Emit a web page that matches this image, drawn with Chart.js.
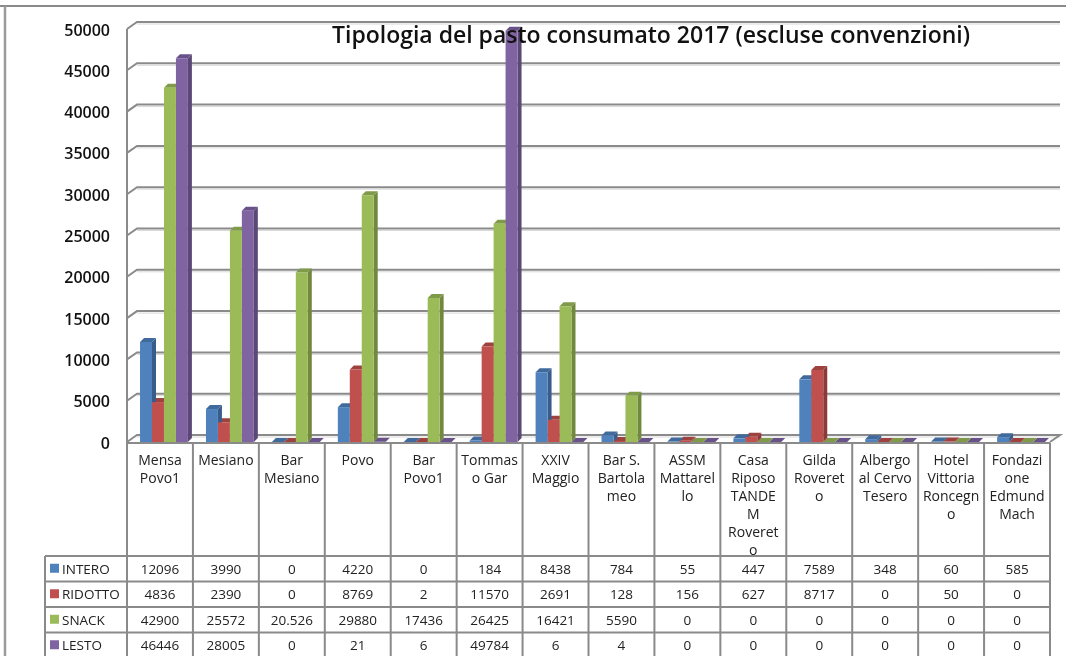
<!DOCTYPE html>
<html><head><meta charset="utf-8">
<script src="https://cdn.jsdelivr.net/npm/chart.js@4"></script>
<style>html,body{margin:0;padding:0;background:#fff}canvas{display:block}</style>
</head><body><canvas id="c" width="1066" height="656"></canvas>
<script>
const chartTitle = "Tipologia del pasto consumato 2017 (escluse convenzioni)";
const categories = [["Mensa","Povo1"],["Mesiano"],["Bar","Mesiano"],["Povo"],["Bar","Povo1"],["Tommas","o Gar"],["XXIV","Maggio"],["Bar S.","Bartola","meo"],["ASSM","Mattarel","lo"],["Casa","Riposo","TANDE","M","Roveret","o"],["Gilda","Roveret","o"],["Albergo","al Cervo","Tesero"],["Hotel","Vittoria","Roncegn","o"],["Fondazi","one","Edmund","Mach"]];
const intero  = [12096,3990,0,4220,0,184,8438,784,55,447,7589,348,60,585];
const ridotto = [4836,2390,0,8769,2,11570,2691,128,156,627,8717,0,50,0];
const snack   = [42900,25572,20526,29880,17436,26425,16421,5590,0,0,0,0,0,0];
const lesto   = [46446,28005,0,21,6,49784,6,4,0,0,0,0,0,0];
const snackTableText = {2:"20.526"};
const seriesNames = ["INTERO","RIDOTTO","SNACK","LESTO"];
const seriesValues = [intero,ridotto,snack,lesto];
const frontColors = ["#4F81BD","#C0504D","#9BBB59","#8064A2"];
const sideColors  = ["#385D8A","#8C3A38","#71893F","#5C4876"];
const topColors   = ["#416A9C","#9E4240","#7F9A49","#69528A"];
const DX=10, DY=7, BDX=4, BDY=4, SHIFT=4;
const ROWS=[556,581.5,607,632.5,658];
const LINE="#8A8A8A";
const tableFont='13.5px "Open Sans"';

const scene3d={id:'scene3d',
  afterDatasetsUpdate(chart){
    chart.data.datasets.forEach((d,i)=>chart.getDatasetMeta(i).data.forEach(el=>{el.x+=SHIFT;}));
  },
  beforeLayout(chart){
    const t=chart.titleBlock;
    t._layers=()=>[{z:10,draw:a=>t.draw(a)}];
  },
  afterLayout(chart){
    const t=chart.titleBlock; t.top+=22; t.bottom+=22; t.left=330; t.right=972; t.width=642;
  },
  beforeDraw(chart){
    const c=chart.ctx;
    c.save();
    c.fillStyle='#fff';c.fillRect(0,0,1066,656);
    c.strokeStyle=LINE;c.lineWidth=2;
    c.beginPath();c.moveTo(0,6);c.lineTo(1066,6);c.stroke();
    c.strokeStyle='#9A9A9A';c.lineWidth=2.5;
    c.beginPath();c.moveTo(5,6);c.lineTo(5,656);c.stroke();
    c.restore();
  },
  beforeDatasetsDraw(chart){
    const c=chart.ctx,{left,right,top,bottom}=chart.chartArea,y=chart.scales.y;
    c.save();
    y.ticks.forEach((t,i)=>{
      const p=y.getPixelForTick(i);
      c.strokeStyle='#D9D9D9';c.lineWidth=1;
      c.beginPath();c.moveTo(left+DX,p-DY+2);c.lineTo(right+DX,p-DY+2);c.stroke();
      c.strokeStyle=LINE;c.lineWidth=2;
      c.beginPath();c.moveTo(left,p);c.lineTo(left+DX,p-DY);c.lineTo(right+DX,p-DY);
      if(i===0){c.lineTo(right,p);}
      c.stroke();
    });
    c.strokeStyle=LINE;c.lineWidth=2;
    c.beginPath();c.moveTo(left,top);c.lineTo(left,bottom+1);c.lineTo(right,bottom+1);c.stroke();
    for(let d=chart.data.datasets.length-1;d>=0;d--){
      chart.getDatasetMeta(d).data.forEach(el=>{
        const l=el.x-el.width/2,r=el.x+el.width/2,t=el.y,b=el.base;
        c.fillStyle=sideColors[d];
        c.beginPath();c.moveTo(r,t);c.lineTo(r+BDX,t-BDY);c.lineTo(r+BDX,b-BDY);c.lineTo(r,b);c.closePath();c.fill();
        c.fillStyle=topColors[d];
        c.beginPath();c.moveTo(l,t);c.lineTo(l+BDX,t-BDY);c.lineTo(r+BDX,t-BDY);c.lineTo(r,t);c.closePath();c.fill();
      });
    }
    c.restore();
  },
  afterDraw(chart){
    const c=chart.ctx,{left,right,bottom}=chart.chartArea,x=chart.scales.x;
    const n=categories.length,w=(right-left)/n;
    c.save();
    c.strokeStyle=LINE;c.lineWidth=2;
    c.beginPath();
    for(let i=0;i<=n;i++){c.moveTo(left+i*w,bottom+1);c.lineTo(left+i*w,656);}
    ROWS.forEach(r=>{c.moveTo(45,r);c.lineTo(right,r);});
    c.moveTo(45,ROWS[0]);c.lineTo(45,656);
    c.stroke();
    c.font=tableFont;c.textBaseline='middle';
    seriesNames.forEach((name,s)=>{
      const cy=(ROWS[s]+ROWS[s+1])/2+1;
      c.fillStyle=frontColors[s];c.fillRect(50,cy-6,9,9);
      c.fillStyle='#222';c.textAlign='left';c.fillText(name,62,cy);
      c.textAlign='center';
      seriesValues[s].forEach((v,i)=>{
        const txt=(s===2&&snackTableText[i])?snackTableText[i]:String(v);
        c.fillText(txt,x.getPixelForTick(i),cy);
      });
    });
    c.restore();
  }
};

new Chart(document.getElementById('c'),{
  type:'bar',
  data:{labels:categories,datasets:seriesNames.map((n,i)=>({label:n,data:seriesValues[i],backgroundColor:frontColors[i],borderWidth:0}))},
  plugins:[scene3d],
  options:{
    responsive:false,animation:false,
    layout:{padding:{left:0,right:16,top:0,bottom:0}},
    datasets:{bar:{categoryPercentage:0.726,barPercentage:1}},
    plugins:{
      legend:{display:false},tooltip:{enabled:false},
      title:{display:true,text:chartTitle,color:'#111',font:{family:'"Open Sans"',size:23,weight:'600',lineHeight:1.2},padding:{top:0.9,bottom:0.5}}
    },
    scales:{
      x:{afterFit:s=>{s.height=214;},grid:{display:false,drawTicks:false},border:{display:false},
         ticks:{autoSkip:false,maxRotation:0,minRotation:0,padding:10,color:'#222',font:{family:'"Open Sans"',size:14,lineHeight:1.286}}},
      y:{min:0,max:50000,afterFit:s=>{s.width=127;},grid:{display:false,drawTicks:false},border:{display:false},
         ticks:{stepSize:5000,padding:17,labelOffset:2,color:'#111',callback:v=>String(v),font:{family:'"Open Sans"',size:16,weight:'600'}}}
    }
  }
});
</script></body></html>
